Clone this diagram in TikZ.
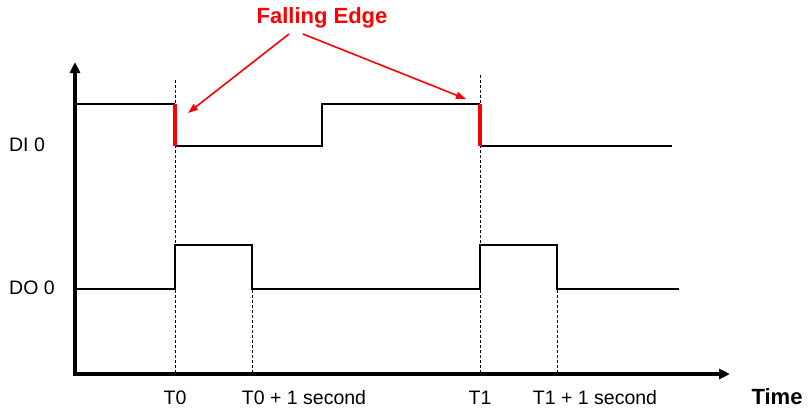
\documentclass[tikz,border=0pt]{standalone}
\usepackage{fontspec}
\setmainfont{Liberation Sans}
\usetikzlibrary{arrows.meta}
\begin{document}
\begin{tikzpicture}[x=1pt,y=-1pt,
  axis/.style={line width=3.2pt,-{Triangle[length=11pt,width=10pt]}},
  sig/.style={line width=2.4pt,line join=miter},
  edge/.style={red,line width=3.8pt},
  guide/.style={densely dashed,line width=1pt},
  lbl/.style={font=\fontsize{19.5}{22}\selectfont,inner sep=0pt},
  blbl/.style={font=\fontsize{22}{25}\selectfont\bfseries,inner sep=0pt},
  ptr/.style={red,line width=1.6pt,-{Triangle[length=10pt,width=7pt]}}]
\useasboundingbox (0,0) rectangle (809,408);
% axes
\coordinate (o) at (75,374);
\coordinate (ytop) at (75,62);
\coordinate (xend) at (730,374);
\draw[axis] (75,375.6) -- (ytop);
\draw[axis] (73.4,374) -- (xend);
% coordinates
\coordinate (t0top) at (175,80);
\coordinate (t0bot) at (175,374);
\coordinate (t1top) at (480,75);
\coordinate (t1bot) at (480,374);
\coordinate (t0p) at (252,245);
\coordinate (t0pb) at (252,374);
\coordinate (t1p) at (557,245);
\coordinate (t1pb) at (557,374);
% guides
\draw[guide] (t0top) -- (t0bot);
\draw[guide] (t1top) -- (t1bot);
\draw[guide] (t0p) -- (t0pb);
\draw[guide] (t1p) -- (t1pb);
% DI 0
\coordinate (di0) at (75,104);
\coordinate (diA) at (175,104);
\coordinate (diB) at (175,146);
\coordinate (diC) at (480,104);
\coordinate (diD) at (480,146);
\draw[sig] (di0) -- (diA) (diB) -- (322,146) -- (322,104) -- (diC) (diD) -- (672,146);
\draw[edge] (diA) -- (diB);
\draw[edge] (diC) -- (diD);
% DO 0
\draw[sig] (75,289) -- (175,289) -- (175,245) -- (252,245) -- (252,289) -- (480,289) -- (480,245) -- (557,245) -- (557,289) -- (679,289);
% labels
\node[lbl] (dilbl) at (27,145) {DI 0};
\node[lbl] (dolbl) at (32,288) {DO 0};
\node[lbl] (lt0) at (175,398) {T0};
\node[lbl] (lt0p) at (304,398) {T0 + 1 second};
\node[lbl] (lt1) at (480,398) {T1};
\node[lbl] (lt1p) at (595,398) {T1 + 1 second};
\node[blbl] (time) at (777,397) {Time};
\node[blbl,red] (fe) at (322,18) {Falling Edge};
% pointers
\coordinate (fe1) at (289,34);
\coordinate (fe2) at (303,34);
\coordinate (p1) at (188,113);
\coordinate (p2) at (466,99);
\draw[ptr] (fe1) -- (p1);
\draw[ptr] (fe2) -- (p2);
\end{tikzpicture}
\end{document}
